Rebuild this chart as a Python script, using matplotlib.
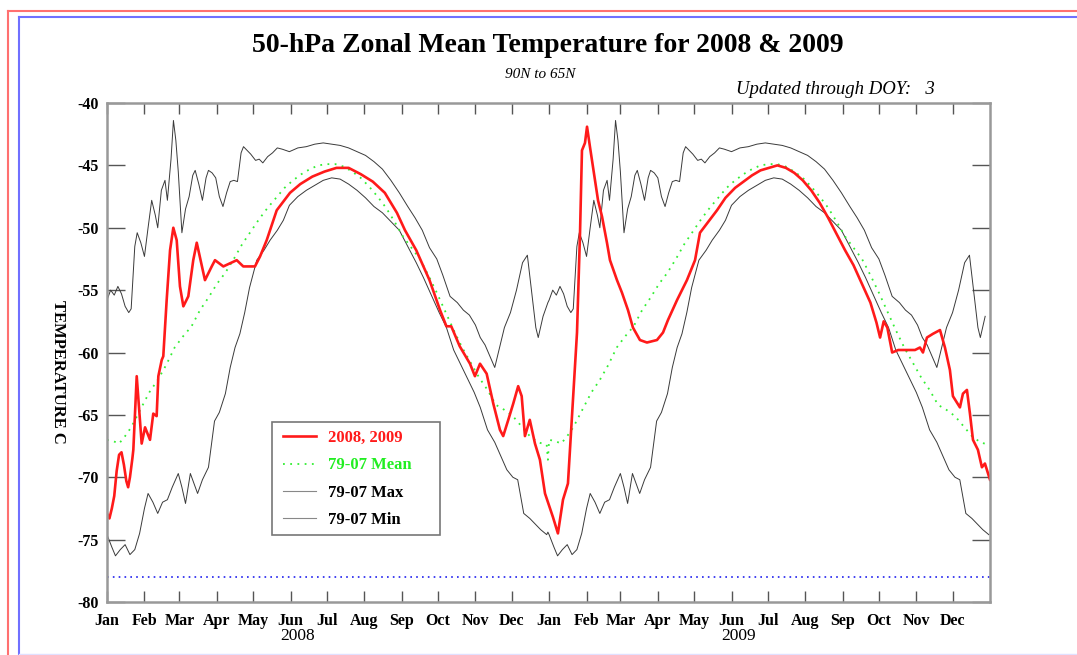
import numpy as np
import pandas as pd
import matplotlib
matplotlib.use("Agg")
import matplotlib.pyplot as plt
from matplotlib.lines import Line2D
from matplotlib.patches import Rectangle

plt.rcParams["axes.unicode_minus"] = False

# 1979-2007 climatology, by day of year
max_doy = [0, 3, 6, 9, 12, 15, 18, 20, 23, 25, 28, 31, 34, 37, 40, 42, 45, 48, 50, 53,
           55, 57, 59, 62, 65, 68, 71, 73, 76, 79, 82, 84, 87, 90, 93, 96, 99, 102, 105, 108,
           111, 113, 116, 119, 123, 126, 129, 133, 137, 141, 145, 151, 158, 165, 172, 179, 186, 193, 200, 207,
           214, 221, 228, 235, 242, 249, 255, 261, 267, 273, 278, 284, 290, 295, 300, 305, 309, 313, 317, 321,
           324, 329, 334, 339, 344, 348, 352, 355, 357, 361, 365]
max_temp = [-55.8, -55.0, -55.4, -54.7, -55.3, -56.3, -56.8, -56.5, -51.5, -50.4, -51.2, -52.3, -50.0, -47.8, -49.0, -50.0, -47.0, -46.2, -47.8, -44.5,
            -41.4, -43.0, -45.5, -50.4, -48.5, -47.5, -45.8, -45.4, -46.5, -47.8, -46.0, -45.4, -45.6, -46.0, -47.5, -48.3, -47.2, -46.3, -46.2, -46.3,
            -44.0, -43.5, -43.8, -44.1, -44.6, -44.5, -44.8, -44.3, -44.0, -43.6, -43.7, -43.9, -43.6, -43.5, -43.3, -43.2, -43.3, -43.4, -43.6, -43.9,
            -44.2, -44.7, -45.3, -46.2, -47.2, -48.3, -49.2, -50.2, -51.6, -52.5, -53.8, -55.5, -56.0, -56.6, -57.0, -57.8, -58.8, -59.4, -60.3, -61.2,
            -60.0, -58.0, -56.8, -55.0, -52.8, -52.2, -55.5, -58.0, -58.8, -57.1, -56.0]

mean_doy = [0, 5, 10, 15, 20, 28, 35, 42, 49, 56, 63, 70, 77, 84, 91, 98, 105, 112, 119, 126,
            133, 140, 147, 154, 161, 168, 175, 182, 189, 196, 203, 210, 217, 224, 231, 238, 245, 252, 259, 266,
            273, 280, 287, 294, 301, 308, 315, 322, 329, 336, 343, 350, 357, 364, 365]
mean_temp = [-67.0, -67.1, -67.3, -66.7, -66.0, -64.5, -63.2, -62.2, -61.0, -59.6, -58.7, -57.9, -56.6, -55.6, -54.5, -53.6, -52.5, -51.3, -50.3, -49.3,
             -48.4, -47.6, -46.8, -46.2, -45.7, -45.3, -45.0, -44.9, -44.9, -45.1, -45.5, -46.0, -46.7, -47.5, -48.4, -49.5, -50.7, -51.6, -52.5, -53.8,
             -55.2, -56.7, -58.2, -59.6, -60.8, -62.0, -63.0, -64.2, -64.6, -65.1, -65.9, -66.7, -67.2, -67.4, -68.6]

min_doy = [0, 4, 7, 11, 15, 19, 23, 27, 31, 34, 38, 42, 46, 50, 54, 59, 62, 65, 69, 72,
           75, 79, 84, 89, 93, 98, 102, 106, 110, 114, 118, 124, 130, 135, 141, 146, 151, 158, 165, 172,
           179, 186, 193, 200, 207, 214, 221, 228, 235, 242, 249, 256, 262, 268, 275, 281, 287, 293, 298, 304,
           309, 315, 321, 326, 331, 336, 340, 345, 350, 354, 359, 364, 365]
min_temp = [-74.6, -75.6, -76.3, -75.8, -75.4, -76.2, -75.8, -74.5, -72.5, -71.3, -72.0, -72.9, -72.0, -71.8, -70.8, -69.7, -70.8, -72.1, -69.7, -70.5,
            -71.3, -70.2, -69.2, -65.5, -64.8, -63.3, -61.2, -59.6, -58.5, -56.8, -54.8, -52.6, -51.8, -51.0, -50.2, -49.4, -48.2, -47.5, -47.0, -46.6,
            -46.2, -46.0, -46.1, -46.5, -47.0, -47.6, -48.3, -48.8, -49.5, -50.2, -51.5, -52.8, -54.0, -55.3, -56.8, -58.0, -59.8, -61.0, -62.0, -63.2,
            -64.4, -66.2, -67.2, -68.3, -69.4, -70.0, -70.2, -72.9, -73.3, -73.7, -74.2, -74.6, -74.4]

# observed 2008-2009, days since 1 Jan 2008
obs_day = [0, 2, 4, 6, 8, 10, 12, 14, 16, 17.5, 19, 21, 21.8, 24.6, 28.7, 31.5, 35.6, 38.3, 41.1, 42.5,
           45.3, 46.6, 49.4, 52.2, 54.9, 57.7, 60.4, 63.2, 67.3, 71.4, 74.3, 81.1, 86.7, 89.4, 96.3, 107.4, 112.8, 122.5, 126.7, 132.2,
           140.5, 151.5, 160, 170, 180, 190, 200, 210, 220, 230, 240, 246.7, 256, 267, 275.7, 281, 285, 292, 300.5, 304.6,
           308.8, 314.3, 319.8, 325.3, 328, 332.2, 336.3, 340.4, 343.3, 346, 350, 354.3, 358.4, 362.6, 369.2, 373.3, 377.5, 381.6, 385.8, 389.1,
           391.6, 393.2, 395.7, 397.4, 399.8, 402.3, 406.5, 409.8, 413.9, 416.4, 422.2, 426.3, 431.3, 435.4, 441.2, 447, 455.3, 460.3, 464.4, 471.9,
           480.1, 486.8, 490.9, 498, 505, 512, 520, 527, 534, 541, 548, 555, 562, 569, 576, 583, 590, 597, 604, 611,
           618, 625, 632, 637, 640, 643, 646, 650, 655, 662.3, 668.9, 673, 675.5, 678.8, 683.8, 689.6, 693.7, 697.8, 700.3, 706.1,
           708.6, 711.9, 714.4, 716.9, 721, 724.3, 726.8, 731]
obs_temp = [-72.9, -73.3, -72.5, -71.5, -69.5, -68.2, -68.0, -69.0, -70.3, -70.8, -70.0, -68.5, -67.8, -61.9, -67.3, -66.0, -67.0, -64.9, -65.1, -61.9,
            -60.6, -60.3, -55.8, -51.8, -50.0, -51.0, -54.7, -56.3, -55.5, -52.6, -51.2, -54.2, -53.1, -52.6, -53.1, -52.6, -53.1, -53.1, -52.3, -51.0,
            -48.6, -47.2, -46.5, -45.9, -45.5, -45.2, -45.2, -45.7, -46.3, -47.2, -48.8, -50.2, -51.8, -54.2, -56.6, -57.9, -57.9, -59.5, -60.9, -61.9,
            -60.9, -61.7, -64.1, -66.2, -66.7, -65.4, -64.1, -62.7, -63.5, -66.7, -65.4, -67.3, -68.6, -71.3, -73.2, -74.5, -71.8, -70.5, -63.8, -58.4,
            -50.4, -43.8, -43.2, -41.9, -43.5, -45.1, -47.8, -49.1, -51.2, -52.6, -54.2, -55.2, -56.6, -58.0, -59.0, -59.2, -59.0, -58.4, -57.4, -55.8,
            -54.2, -52.6, -50.4, -49.5, -48.6, -47.6, -46.8, -46.3, -45.8, -45.4, -45.2, -45.0, -45.2, -45.6, -46.2, -47.0, -48.0, -49.2, -50.5, -51.8,
            -53.0, -54.5, -56.0, -57.6, -58.8, -57.5, -58.0, -60.0, -59.8, -59.8, -59.8, -59.6, -60.0, -58.8, -58.5, -58.2, -59.6, -61.4, -63.5, -64.4,
            -63.3, -63.0, -64.9, -67.0, -67.8, -69.2, -68.9, -70.2]

psc_temp = -78.0
month_names = ["Jan", "Feb", "Mar", "Apr", "May", "Jun", "Jul", "Aug", "Sep", "Oct", "Nov", "Dec"]
years = [2008, 2009]
doy_label = 3

serif = "Liberation Serif"
start = pd.Timestamp("2008-01-01")
year2_start = (pd.Timestamp("2009-01-01") - start).days


def two_years(doy, vals):
    doy = np.asarray(doy, float)
    vals = np.asarray(vals, float)
    keep = doy < 365
    return np.concatenate([doy, year2_start + doy[keep]]), np.concatenate([vals, vals[keep]])


fig = plt.figure(figsize=(10.77, 6.55), dpi=100)
ax = fig.add_axes([107 / 1077, 1 - 602 / 655, 883 / 1077, 499 / 655])

x, y = two_years(min_doy, min_temp)
ax.plot(x, y, color="#3a3a3a", lw=0.7)
x, y = two_years(max_doy, max_temp)
ax.plot(x, y, color="#3a3a3a", lw=0.7)
x, y = two_years(mean_doy, mean_temp)
ax.plot(x, y, color="#33ee33", lw=1.3, ls=(0, (1, 3)))
ax.plot(obs_day, obs_temp, color="#ff1a1a", lw=1.9)
ax.axhline(psc_temp, color="#2020ee", lw=1.2, ls=(0, (1, 2.5)))

ax.set_xlim(0, 731)
ax.set_ylim(-80, -40)
ticks = [(pd.Timestamp(yr, m, 1) - start).days for yr in years for m in range(1, 13)]
ax.set_xticks(ticks)
ax.set_xticklabels(month_names * 2)
ax.set_yticks(np.arange(-80, -39, 5))
ax.tick_params(axis="x", direction="in", length=8, width=1, color="#555555", top=True, pad=8)
ax.tick_params(axis="y", direction="in", length=13, width=1, color="#555555", right=True, pad=6)
for lab in ax.get_xticklabels() + ax.get_yticklabels():
    lab.set_fontfamily(serif)
    lab.set_fontweight("bold")
    lab.set_fontsize(11.5)

for s in ax.spines.values():
    s.set_color("#999999")
    s.set_linewidth(1.8)

for yr, d in zip(years, [158, year2_start + 157]):
    ax.text(d, -0.068, str(yr), transform=ax.get_xaxis_transform(), ha="center", va="center",
            fontfamily=serif, fontsize=12.5)

fig.text(548 / 1077, 1 - 46 / 655, "50-hPa Zonal Mean Temperature for 2008 & 2009", ha="center", va="center",
         fontfamily=serif, fontweight="bold", fontsize=20)
fig.text(540 / 1077, 1 - 75 / 655, "90N to 65N", ha="center", va="center",
         fontfamily=serif, style="italic", fontsize=11)
fig.text(935 / 1077, 1 - 90 / 655, f"Updated through DOY:   {doy_label}", ha="right", va="center",
         fontfamily=serif, style="italic", fontsize=13.5)
fig.text(58 / 1077, 1 - 372 / 655, "TEMPERATURE C", rotation=-90, ha="center", va="center",
         fontfamily=serif, fontweight="bold", fontsize=12)

# legend box drawn separately so it can be wider than its contents
ax.add_patch(Rectangle(((272 - 107) / 883, (602 - 535) / 499), 168 / 883, 113 / 499,
                       transform=ax.transAxes, facecolor="white", edgecolor="#777777", lw=1.2, zorder=4))
handles = [Line2D([], [], color="#ff1a1a", lw=1.9),
           Line2D([], [], color="#33ee33", lw=1.3, ls=(0, (1, 3))),
           Line2D([], [], color="#888888", lw=0.8),
           Line2D([], [], color="#888888", lw=0.8)]
leg = ax.legend(handles, ["2008, 2009", "79-07 Mean", "79-07 Max", "79-07 Min"],
                loc="upper left", bbox_to_anchor=((283 - 107) / 883, (602 - 430) / 499),
                borderaxespad=0, borderpad=0, frameon=False,
                handlelength=2.0, handletextpad=0.7, labelspacing=0.68,
                prop={"family": serif, "weight": "bold", "size": 12},
                labelcolor=["#ff1a1a", "#22ee22", "black", "black"])
leg.set_zorder(5)

# page border lines
fig.add_artist(Line2D([8 / 1077, 8 / 1077], [0, 1 - 11 / 655], transform=fig.transFigure, color="#ff7070", lw=1.5))
fig.add_artist(Line2D([8 / 1077, 1], [1 - 11 / 655, 1 - 11 / 655], transform=fig.transFigure, color="#ff7070", lw=1.5))
fig.add_artist(Line2D([19 / 1077, 19 / 1077], [1 - 654 / 655, 1 - 17 / 655], transform=fig.transFigure, color="#7070ff", lw=1.5))
fig.add_artist(Line2D([19 / 1077, 1], [1 - 17 / 655, 1 - 17 / 655], transform=fig.transFigure, color="#7070ff", lw=1.5))
fig.add_artist(Line2D([19 / 1077, 1], [1 - 654 / 655, 1 - 654 / 655], transform=fig.transFigure, color="#e0e0ff", lw=1))

fig.savefig("out.png", dpi=100)
